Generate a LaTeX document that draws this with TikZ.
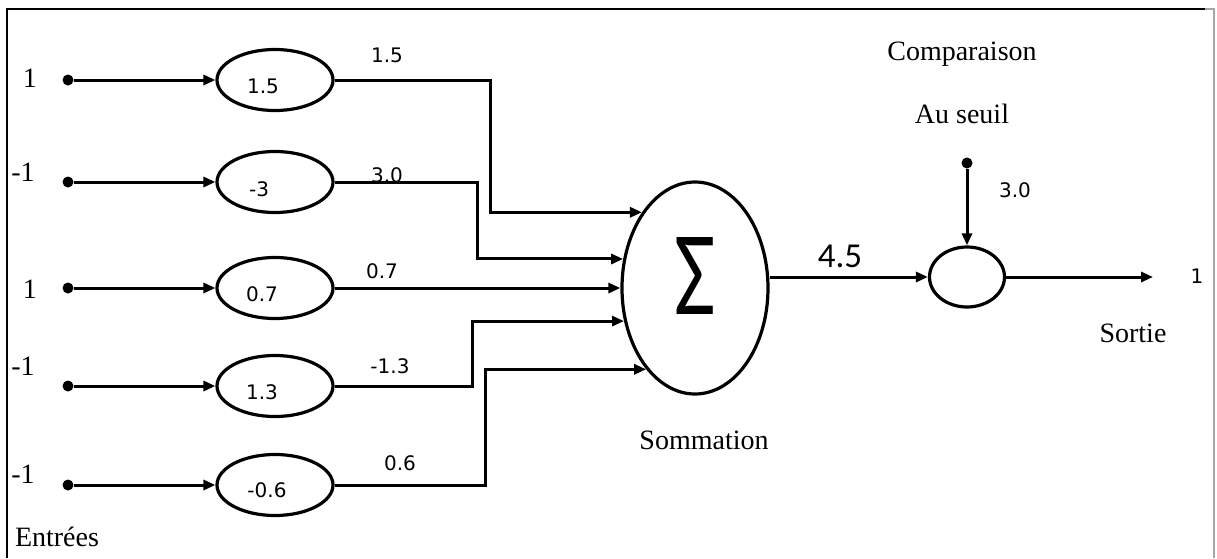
\documentclass[tikz,border=0pt]{standalone}
\usepackage{fontspec}
\setmainfont{Liberation Serif}
\newfontfamily\numfont{DejaVu Sans}
\newfontfamily\calfont{Carlito}
\usetikzlibrary{shapes.geometric,arrows.meta}
\begin{document}
\begin{tikzpicture}[x=0.5pt,y=-0.5pt,
  wire/.style={line width=1.5pt},
  arr/.style={wire,-{Triangle[length=6pt,width=5pt]}},
  inputdot/.style={circle,fill=black,inner sep=0pt,minimum size=5.5pt},
  weightnode/.style={ellipse,draw,line width=1.6pt,minimum width=58pt,minimum height=30.5pt,inner sep=0pt},
  serif/.style={font=\fontsize{14}{16}\selectfont,inner sep=0pt},
  num/.style={font=\numfont\fontsize{10}{12}\selectfont,inner sep=0pt},
]
\useasboundingbox (0,0) rectangle (1217,558);
% frame
\draw[line width=1.4pt] (7,558) -- (7,9) -- (1205,9);
\draw[line width=1.4pt,gray!70] (1205,9) -- (1214,9) -- (1214,558);

% inputs
\foreach \i/\y in {1/80,2/182,3/288,4/386,5/485}{
  \node[inputdot] (d\i) at (68,\y) {};
  \node[weightnode] (w\i) at (275,\y) {};
  \draw[arr] (d\i) -- (w\i);
}
\node[serif] (l1) at (30,78) {1};
\node[serif,anchor=west] (l2) at (11,172) {-1};
\node[serif] (l3) at (30,289) {1};
\node[serif,anchor=west] (l4) at (11,366) {-1};
\node[serif,anchor=west] (l5) at (11,474) {-1};
\node[serif] (entrees) at (57,537) {Entrées};

% weights text
\node[num] (t1) at ([shift={(-12,6)}]w1) {1.5};
\node[num] (t2) at ([shift={(-16,7)}]w2) {-3};
\node[num] (t3) at ([shift={(-13,6)}]w3) {0.7};
\node[num] (t4) at ([shift={(-13,6)}]w4) {1.3};
\node[num] (t5) at ([shift={(-8,5)}]w5) {-0.6};

% summation
\node[ellipse,draw,line width=1.6pt,minimum width=73pt,minimum height=106pt,inner sep=0pt] (S) at (695,288) {};
\node[font=\calfont\fontsize{60}{60}\selectfont,xscale=0.75,inner sep=0pt] (sig) at (695,276) {Σ};
\node[serif] (somm) at (704,440) {Sommation};

% x markers for vertical segments
\coordinate (k1) at (490,0);
\coordinate (k2) at (477,0);
\coordinate (k4) at (472,0);
\coordinate (k5) at (485,0);

\draw[arr] (w1.east) -- (w1.east -| k1) |- (S.125);
\draw[arr] (w2.east) -- (w2.east -| k2) |- (S.158);
\draw[arr] (w3.east) -- (S.west);
\draw[arr] (w4.east) -- (w4.east -| k4) |- (S.205);
\draw[arr] (w5.east) -- (w5.east -| k5) |- (S.239);

\node[num] (v1) at (387,55) {1.5};
\node[num] (v2) at (387,175) {3.0};
\node[num] (v3) at (382,271) {0.7};
\node[num] (v4) at (390,366) {-1.3};
\node[num] (v5) at (400,463) {0.6};

% threshold comparison
\node[ellipse,draw,line width=1.6pt,minimum width=37.5pt,minimum height=30pt,inner sep=0pt] (C) at (967,277) {};
\draw[arr] (C.west -| S.east) -- (C.west);
\node[font=\calfont\fontsize{17.5}{19}\selectfont,inner sep=0pt] (sum) at (840,256) {4.5};
\node[inputdot] (td) at (967,163) {};
\draw[arr] (td) -- (C.north);
\node[num] (thr) at (1015,190) {3.0};
\node[serif] (comp) at (962,54) {Comparaison};
\node[serif] (seuil) at (962,114) {Au seuil};
\coordinate (out) at (1153,277);
\draw[arr] (C.east) -- (out);
\node[num] (o1) at (1197,276) {1};
\node[serif] (sortie) at (1133,333) {Sortie};
\end{tikzpicture}
\end{document}
